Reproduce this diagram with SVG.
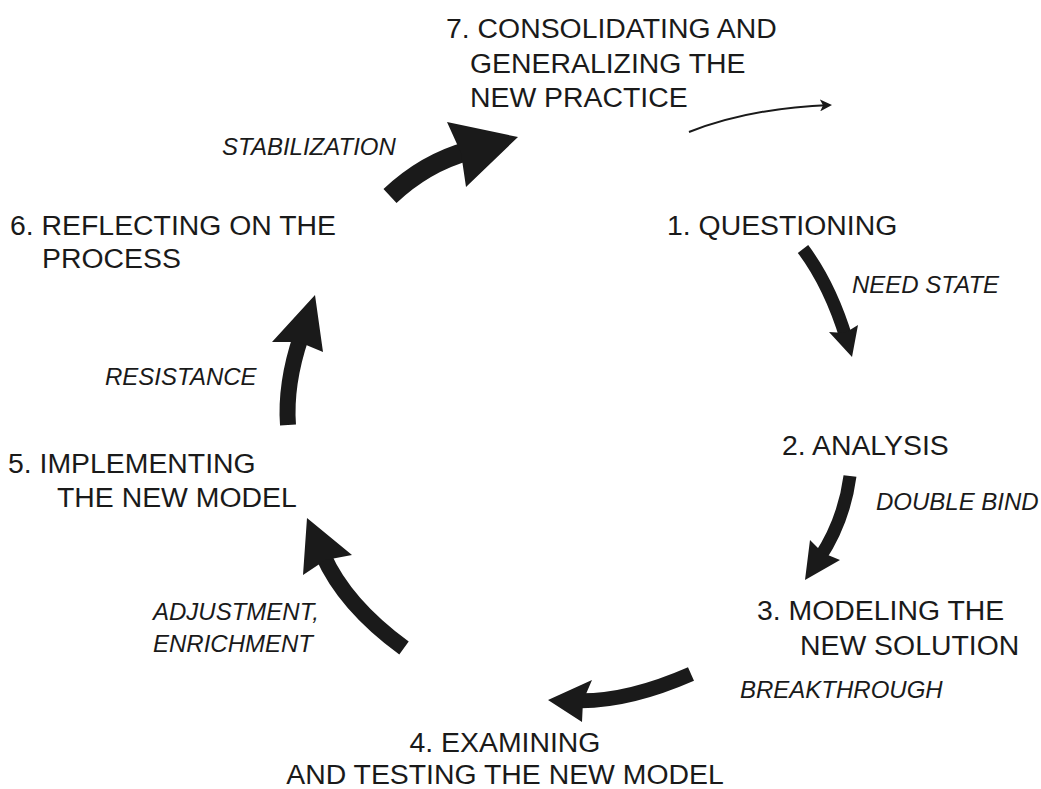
<svg xmlns="http://www.w3.org/2000/svg" width="1041" height="789" viewBox="0 0 1041 789">
<defs>
<style>
.h{font-family:"Liberation Sans",Arial,sans-serif;font-size:28.4px;fill:#1a1a1a}
.l{font-family:"Liberation Sans",Arial,sans-serif;font-size:24px;font-style:italic;fill:#1a1a1a}
.sh{fill:none;stroke:#1a1a1a;stroke-linecap:butt}
.hd{fill:#1a1a1a}
</style>
<marker id="thin" viewBox="0 0 12 12" refX="10" refY="6" markerWidth="12" markerHeight="12" markerUnits="userSpaceOnUse" orient="auto">
<path d="M0,0 L12,6 L0,12 L3,6 Z" fill="#1a1a1a"/>
</marker>
</defs>
<rect width="1041" height="789" fill="#ffffff"/>
<g id="node7"><text class="h" x="446" y="38">7. CONSOLIDATING AND</text><text class="h" x="470" y="73">GENERALIZING THE</text><text class="h" x="470" y="107">NEW PRACTICE</text></g>
<g id="node1"><text class="h" x="667" y="235">1. QUESTIONING</text></g>
<g id="node6"><text class="h" x="10" y="235">6. REFLECTING ON THE</text><text class="h" x="42" y="268">PROCESS</text></g>
<g id="node2"><text class="h" x="782" y="455">2. ANALYSIS</text></g>
<g id="node5"><text class="h" x="8" y="473">5. IMPLEMENTING</text><text class="h" x="57" y="507">THE NEW MODEL</text></g>
<g id="node3"><text class="h" x="757" y="620">3. MODELING THE</text><text class="h" x="800" y="655">NEW SOLUTION</text></g>
<g id="node4"><text class="h" x="505" y="752" text-anchor="middle">4. EXAMINING</text><text class="h" x="505" y="784" text-anchor="middle">AND TESTING THE NEW MODEL</text></g>
<g id="connectors">
<path class="sh" stroke-width="19" d="M390,196 Q425,163 468,151"/>
<polygon class="hd" points="518,137 447,122 461,153 466,187"/>
<path class="sh" stroke-width="13" d="M803,249 Q830,285 846.5,339"/>
<polygon class="hd" points="852,357 829,332 845,333 858,325"/>
<path class="sh" stroke-width="13" d="M850,476 Q844,521 819.5,558"/>
<polygon class="hd" points="805,580 810,540 823,553 840,560"/>
<path class="sh" stroke-width="15" d="M691,674 Q627,702 577,700.7"/>
<polygon class="hd" points="548,700 592,680 583,701 582,722"/>
<path class="sh" stroke-width="16" d="M404,648 Q345,605 323,555"/>
<polygon class="hd" points="307,518 352,555 325.5,560 303,575"/>
<path class="sh" stroke-width="16" d="M288,425 Q285,384 301,336.6"/>
<polygon class="hd" points="315,295 323,352 299,342 272,342"/>
<path fill="none" stroke="#1a1a1a" stroke-width="2" d="M689,132 Q750,108 830,105" marker-end="url(#thin)"/>
<text class="l" x="222" y="155">STABILIZATION</text>
<text class="l" x="852" y="293">NEED STATE</text>
<text class="l" x="105" y="385">RESISTANCE</text>
<text class="l" x="876" y="510">DOUBLE BIND</text>
<text class="l" x="153" y="620">ADJUSTMENT,</text>
<text class="l" x="153" y="652">ENRICHMENT</text>
<text class="l" x="740" y="698">BREAKTHROUGH</text>
</g>
</svg>
